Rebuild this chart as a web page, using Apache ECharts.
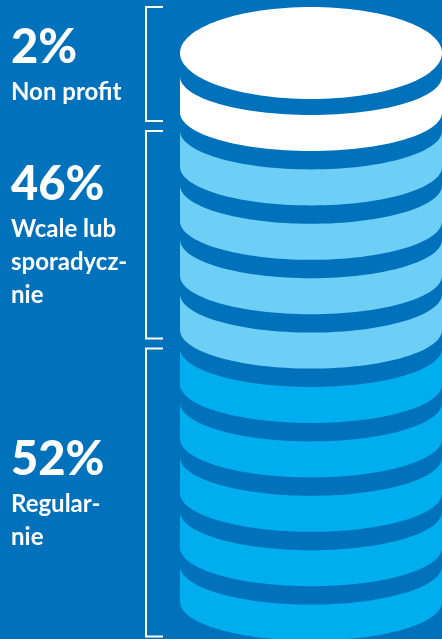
<!DOCTYPE html>
<html><head><meta charset="utf-8">
<script src="https://cdn.jsdelivr.net/npm/echarts@6/dist/echarts.min.js"></script>
<style>html,body{margin:0;padding:0;background:#0071bb;overflow:hidden}#c{width:442px;height:639px}</style>
</head><body><div id="c"></div>
<script>
// ---- data ----
const shares = [2, 46, 52];
const categories = ['Non profit', 'Wcale lub\nsporadycz-\nnie', 'Regular-\nnie'];
const coinCounts = [1, 4, 5];

// ---- style ----
const BG = '#0071bb';
const groupColors = ['#ffffff', '#6dcff6', '#00aeef'];
const COIN_THICK = 0.662;   // side band height as a fraction of one coin slot
const ARC_RATIO = 0.294;    // ellipse ry/rx of the coin edges
const FACE_RATIO = 0.351;   // ellipse ry/rx of the top face
const FACE_GAP = 0.294;     // gap between face and first side band (slots)

const coinData = [];
let idx = 0;
const bracketData = [];
coinCounts.forEach((n, g) => {
  bracketData.push([g, idx, idx + n - 1]);
  for (let k = 0; k < n; k++) coinData.push([idx++, g]);
});

function geom(api, i) {
  const l = api.coord([0, i]), r = api.coord([1, i]);
  const rx = (r[0] - l[0]) / 2;
  return { left: l[0], cx: l[0] + rx, rx: rx, ry: rx * ARC_RATIO, top: l[1], bot: api.coord([0, i + COIN_THICK])[1] };
}
function faceGeom(api, a) {
  const fb = api.coord([0, -FACE_GAP])[1];
  const fry = a.rx * FACE_RATIO;
  return { cy: fb - fry, ry: fry };
}

function renderCoin(params, api) {
  const i = api.value(0), g = api.value(1);
  const a = geom(api, i);
  const N = 64, pts = [];
  for (let j = 0; j <= N; j++) {
    const t = Math.PI - Math.PI * j / N;
    pts.push([a.cx + a.rx * Math.cos(t), a.top - a.ry + a.ry * Math.sin(t)]);
  }
  for (let j = 0; j <= N; j++) {
    const t = Math.PI * j / N;
    pts.push([a.cx + a.rx * Math.cos(t), a.bot - a.ry + a.ry * Math.sin(t)]);
  }
  const children = [{ type: 'polygon', shape: { points: pts }, style: { fill: groupColors[g] } }];
  if (i === 0) {
    const f = faceGeom(api, a);
    const fp = [];
    for (let j = 0; j < 128; j++) {
      const t = 2 * Math.PI * j / 128;
      fp.push([a.cx + a.rx * Math.cos(t), f.cy + f.ry * Math.sin(t)]);
    }
    children.push({ type: 'polygon', shape: { points: fp }, style: { fill: groupColors[g] } });
  }
  return { type: 'group', children: children };
}

function renderBracket(params, api) {
  const g = api.value(0), first = api.value(1), last = api.value(2);
  const a = geom(api, first), b = geom(api, last);
  let y0;
  if (first === 0) { const f = faceGeom(api, a); y0 = f.cy - f.ry; } else { y0 = a.top - a.ry; }
  let y1;
  if (g < coinCounts.length - 1) { const n = geom(api, last + 1); y1 = n.top - n.ry - 10; }
  else { y1 = b.bot - 4; }
  const x0 = a.left - 34, x1 = a.left - 17;
  const lines = categories[g].split('\n').map(s => '{n|' + s + '}').join('\n');
  return {
    type: 'group', children: [
      { type: 'polyline', shape: { points: [[x1, y0], [x0, y0], [x0, y1], [x1, y1]] },
        style: { stroke: '#ffffff', lineWidth: 2, fill: null } },
      { type: 'text', x: 11, y: (y0 + y1) / 2,
        style: {
          text: '{p|' + shares[g] + '%}\n' + lines,
          align: 'left', verticalAlign: 'middle',
          rich: {
            p: { fontFamily: 'Lato', fontWeight: 900, fontSize: 47, lineHeight: 56, fill: '#ffffff' },
            n: { fontFamily: 'Lato', fontWeight: 700, fontSize: 24, lineHeight: 33, fill: '#ffffff' }
          }
        } }
    ]
  };
}

const chart = echarts.init(document.getElementById('c'), null, { renderer: 'canvas' });
chart.setOption({
  backgroundColor: BG,
  animation: false,
  grid: { left: 180, right: 0, top: 6.2, bottom: 34.4 },
  xAxis: { type: 'value', min: 0, max: 1, show: false },
  yAxis: { type: 'value', inverse: true, min: -2, max: 9, show: false },
  series: [
    { type: 'custom', renderItem: renderCoin, data: coinData, clip: false },
    { type: 'custom', renderItem: renderBracket, data: bracketData, clip: false }
  ]
});
</script>
</body></html>
